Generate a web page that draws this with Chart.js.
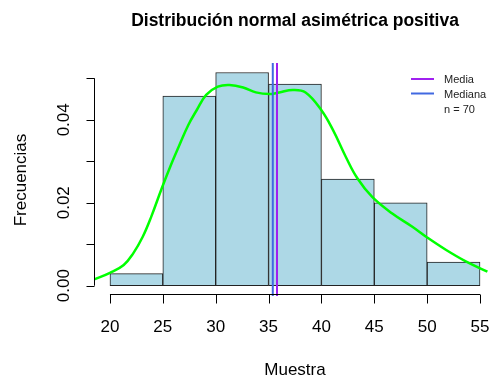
<!DOCTYPE html>
<html>
<head>
<meta charset="utf-8">
<script src="https://cdn.jsdelivr.net/npm/chart.js@4"></script>
<style>
  body { margin: 0; background: #fff; }
  canvas { display: block; }
</style>
</head>
<body>
<canvas id="histChart" width="489" height="378"></canvas>
<script>
// Histogram data (density per bin)
const binCenters = [22.5, 27.5, 32.5, 37.5, 42.5, 47.5, 52.5];
const binDensity = [0.0029, 0.0457, 0.0514, 0.0486, 0.0257, 0.0200, 0.0057];

// Kernel density curve
const densX = [18.4, 20.0, 21.3, 22.2, 23.1, 23.9, 24.9, 25.7, 26.5, 27.4, 28.2, 29.1, 30.2, 31.3, 32.6, 33.8, 35.1, 36.0, 37.3, 38.5, 40.0, 41.1, 42.3, 43.4, 44.8, 46.7, 48.6, 49.9, 51.8, 53.7, 55.7];
const densY = [0.0014, 0.0031, 0.0050, 0.0078, 0.0118, 0.0166, 0.0235, 0.0287, 0.0335, 0.0387, 0.0423, 0.0460, 0.0480, 0.0484, 0.0478, 0.0466, 0.0462, 0.0466, 0.0472, 0.0466, 0.0423, 0.0375, 0.0311, 0.0259, 0.0214, 0.0174, 0.0142, 0.0118, 0.0086, 0.0058, 0.0034];

const media = 35.8;
const mediana = 35.4;
const n = 70;

const xTicks = [20, 25, 30, 35, 40, 45, 50, 55];
const yTicks = [0, 0.01, 0.02, 0.03, 0.04, 0.05];
const yTickLabels = ["0.00", "", "0.02", "", "0.04", ""];

const xMin = 18.49, xMax = 55.85;
const yMin = -0.00248, yMax = 0.05369;

const FONT = '"Liberation Sans", Arial, sans-serif';

// R-style axes, titles and legend
const rStyle = {
    id: 'rStyle',
    afterDraw(chart) {
        const c = chart.ctx;
        const xs = chart.scales.x, ys = chart.scales.y;
        c.save();
        c.strokeStyle = '#000';
        c.fillStyle = '#000';
        c.lineWidth = 1;

        // y axis
        const yl = 94.5;
        c.beginPath();
        c.moveTo(yl, ys.getPixelForValue(0));
        c.lineTo(yl, ys.getPixelForValue(0.05));
        yTicks.forEach(v => {
            const p = Math.round(ys.getPixelForValue(v)) + 0.5;
            c.moveTo(yl, p);
            c.lineTo(yl - 8, p);
        });
        c.stroke();
        c.font = '17px ' + FONT;
        c.textAlign = 'center';
        c.textBaseline = 'middle';
        yTicks.forEach((v, i) => {
            if (!yTickLabels[i]) return;
            c.save();
            c.translate(64, ys.getPixelForValue(v));
            c.rotate(-Math.PI / 2);
            c.fillText(yTickLabels[i], 0, 0);
            c.restore();
        });

        // x axis
        const xl = 294.5;
        c.beginPath();
        c.moveTo(xs.getPixelForValue(xTicks[0]), xl);
        c.lineTo(xs.getPixelForValue(xTicks[xTicks.length - 1]), xl);
        xTicks.forEach(v => {
            const p = Math.round(xs.getPixelForValue(v)) + 0.5;
            c.moveTo(p, xl);
            c.lineTo(p, xl + 9);
        });
        c.stroke();
        xTicks.forEach(v => {
            c.fillText(String(v), xs.getPixelForValue(v), 327);
        });

        // axis titles
        c.fillText('Muestra', 295, 370);
        c.save();
        c.translate(21, 180);
        c.rotate(-Math.PI / 2);
        c.fillText('Frecuencias', 0, 0);
        c.restore();

        // main title
        c.font = 'bold 17.5px ' + FONT;
        c.fillText('Distribución normal asimétrica positiva', 295, 21);

        // legend
        c.lineWidth = 2;
        c.strokeStyle = '#A020F0';
        c.beginPath(); c.moveTo(411, 79); c.lineTo(434, 79); c.stroke();
        c.strokeStyle = '#4169E1';
        c.beginPath(); c.moveTo(411, 93.5); c.lineTo(434, 93.5); c.stroke();
        c.fillStyle = '#222';
        c.font = '11px ' + FONT;
        c.textAlign = 'left';
        c.fillText('Media', 444, 80);
        c.fillText('Mediana', 444, 95);
        c.fillText('n = ' + n, 444, 110);
        c.restore();
    }
};

const ctx = document.getElementById('histChart');

new Chart(ctx, {
    type: 'bar',
    data: {
        datasets: [
            {
                type: 'line',
                label: 'Media',
                data: [{ x: media, y: yMin }, { x: media, y: yMax }],
                borderColor: '#A020F0',
                borderWidth: 2,
                pointRadius: 0,
                order: 0
            },
            {
                type: 'line',
                label: 'Mediana',
                data: [{ x: mediana, y: yMin }, { x: mediana, y: yMax }],
                borderColor: '#4169E1',
                borderWidth: 2,
                pointRadius: 0,
                order: 0
            },
            {
                type: 'line',
                label: 'Densidad',
                data: densX.map((x, i) => ({ x: x, y: densY[i] })),
                borderColor: '#00FF00',
                borderWidth: 2.5,
                pointRadius: 0,
                tension: 0.4,
                order: 1
            },
            {
                label: 'Frecuencias',
                data: binCenters.map((x, i) => ({ x: x, y: binDensity[i] })),
                backgroundColor: '#ADD8E6',
                borderColor: '#222',
                borderWidth: 1,
                borderSkipped: false,
                barPercentage: 1,
                categoryPercentage: 1,
                order: 2
            }
        ]
    },
    options: {
        responsive: false,
        animation: false,
        layout: {
            padding: { left: 94, right: 0, top: 63, bottom: 82 }
        },
        plugins: {
            legend: { display: false },
            tooltip: { enabled: false }
        },
        scales: {
            x: {
                type: 'linear',
                min: xMin,
                max: xMax,
                offset: false,
                display: false
            },
            y: {
                type: 'linear',
                min: yMin,
                max: yMax,
                beginAtZero: false,
                display: false
            }
        }
    },
    plugins: [rStyle]
});
</script>
</body>
</html>
